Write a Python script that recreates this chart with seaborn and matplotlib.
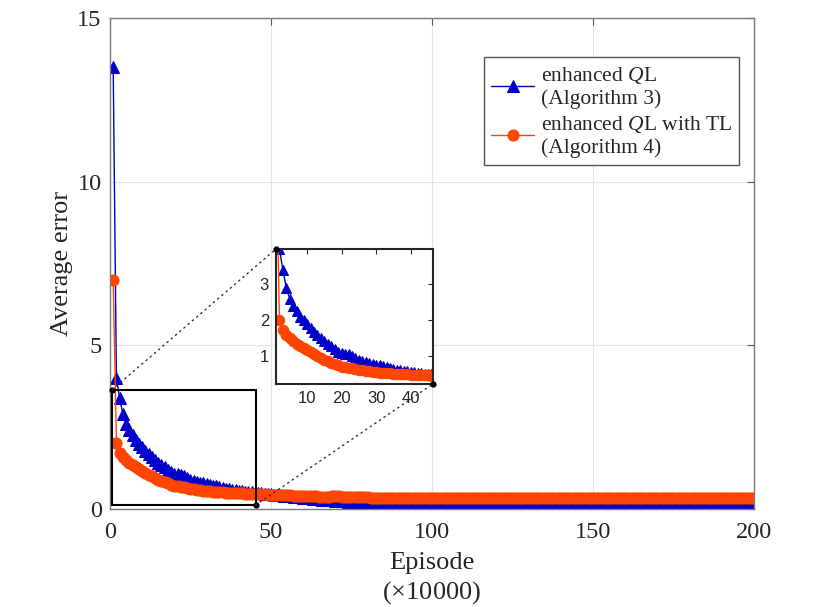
import numpy as np
import pandas as pd
import seaborn as sns
import matplotlib.pyplot as plt
from matplotlib.patches import Rectangle, ConnectionPatch

# Episodes (x 10000)
episodes = list(range(1, 201))

# enhanced QL (Algorithm 3)
err_ql = [
    13.5, 4.0, 3.4, 2.9, 2.6, 2.4, 2.25, 2.1, 2.0, 1.9,
    1.78, 1.68, 1.6, 1.5, 1.42, 1.35, 1.27, 1.2, 1.12, 1.08,
    1.06, 1.05, 1.0, 0.95, 0.9, 0.86, 0.83, 0.8, 0.78, 0.76,
    0.74, 0.71, 0.69, 0.67, 0.65, 0.62, 0.6, 0.59, 0.58, 0.56,
    0.55, 0.53, 0.52, 0.51, 0.5, 0.49, 0.48, 0.47, 0.46, 0.45,
    0.44, 0.43, 0.42, 0.41, 0.40, 0.39, 0.38, 0.37, 0.36, 0.35,
    0.34, 0.33, 0.32, 0.31, 0.30, 0.29, 0.28, 0.28, 0.27, 0.26,
    0.25, 0.25, 0.24, 0.23, 0.23, 0.22, 0.22, 0.21, 0.21, 0.20,
    0.20, 0.19, 0.19, 0.18, 0.18, 0.18, 0.17, 0.17, 0.17, 0.16,
    0.16, 0.16, 0.16, 0.15, 0.15, 0.15, 0.15, 0.15, 0.14, 0.14,
    0.14, 0.14, 0.14, 0.13, 0.13, 0.13, 0.13, 0.13, 0.13, 0.13,
    0.13, 0.13, 0.12, 0.12, 0.12, 0.12, 0.12, 0.12, 0.12, 0.12,
    0.12, 0.12, 0.12, 0.11, 0.11, 0.11, 0.11, 0.11, 0.11, 0.11,
    0.11, 0.11, 0.11, 0.11, 0.11, 0.11, 0.11, 0.11, 0.11, 0.12,
    0.12, 0.12, 0.12, 0.12, 0.12, 0.12, 0.12, 0.12, 0.12, 0.12,
    0.12, 0.12, 0.12, 0.12, 0.12, 0.12, 0.12, 0.12, 0.12, 0.12,
    0.12, 0.12, 0.12, 0.12, 0.12, 0.12, 0.12, 0.12, 0.12, 0.12,
    0.12, 0.12, 0.12, 0.12, 0.12, 0.12, 0.12, 0.12, 0.12, 0.12,
    0.12, 0.12, 0.12, 0.12, 0.12, 0.12, 0.12, 0.12, 0.12, 0.12,
    0.12, 0.12, 0.12, 0.12, 0.12, 0.12, 0.12, 0.12, 0.12, 0.12,
]

# enhanced QL with TL (Algorithm 4)
err_ql_tl = [
    7.0, 2.02, 1.72, 1.6, 1.5, 1.42, 1.35, 1.28, 1.22, 1.17,
    1.1, 1.05, 1.0, 0.95, 0.9, 0.86, 0.82, 0.78, 0.74, 0.7,
    0.69, 0.68, 0.66, 0.64, 0.62, 0.6, 0.58, 0.57, 0.56, 0.55,
    0.54, 0.53, 0.52, 0.52, 0.51, 0.5, 0.5, 0.49, 0.49, 0.48,
    0.48, 0.47, 0.47, 0.46, 0.46, 0.45, 0.45, 0.45, 0.44, 0.44,
    0.44, 0.43, 0.43, 0.43, 0.42, 0.42, 0.41, 0.41, 0.41, 0.40,
    0.40, 0.39, 0.39, 0.39, 0.38, 0.38, 0.38, 0.38, 0.39, 0.39,
    0.39, 0.38, 0.38, 0.37, 0.37, 0.37, 0.36, 0.36, 0.36, 0.36,
    0.35, 0.35, 0.35, 0.35, 0.35, 0.34, 0.34, 0.34, 0.34, 0.34,
    0.34, 0.34, 0.33, 0.33, 0.33, 0.33, 0.33, 0.33, 0.33, 0.33,
    0.33, 0.33, 0.34, 0.34, 0.34, 0.34, 0.35, 0.35, 0.35, 0.35,
    0.35, 0.35, 0.35, 0.35, 0.35, 0.35, 0.35, 0.35, 0.35, 0.35,
    0.35, 0.35, 0.35, 0.34, 0.34, 0.34, 0.34, 0.34, 0.34, 0.34,
    0.33, 0.33, 0.33, 0.33, 0.33, 0.33, 0.33, 0.33, 0.33, 0.33,
    0.33, 0.33, 0.33, 0.33, 0.33, 0.33, 0.33, 0.33, 0.33, 0.34,
    0.34, 0.34, 0.34, 0.34, 0.34, 0.34, 0.34, 0.35, 0.35, 0.35,
    0.35, 0.35, 0.35, 0.35, 0.35, 0.35, 0.35, 0.35, 0.35, 0.35,
    0.35, 0.35, 0.35, 0.35, 0.35, 0.35, 0.35, 0.35, 0.35, 0.35,
    0.35, 0.35, 0.35, 0.35, 0.35, 0.35, 0.35, 0.35, 0.35, 0.35,
    0.35, 0.35, 0.35, 0.35, 0.35, 0.35, 0.35, 0.35, 0.35, 0.35,
]

label_ql = "enhanced $Q$L\n(Algorithm 3)"
label_tl = "enhanced $Q$L with TL\n(Algorithm 4)"
x_ticks = [0, 50, 100, 150, 200]
y_ticks = [0, 5, 10, 15]
inset_xticks = [10, 20, 30, 40]
inset_yticks = [1, 2, 3]

BLUE = "#0000cc"
ORANGE = "#ff4500"


def draw_series(ax, df, small=False):
    ms_tri = 7.5 if small else 9
    ms_dot = 7.5 if small else 8
    sns.lineplot(ax=ax, data=df, x="episode", y="ql", color=BLUE, marker="^",
                 markersize=ms_tri, markeredgecolor=BLUE, linewidth=1.0,
                 label=label_ql, legend=False)
    sns.lineplot(ax=ax, data=df, x="episode", y="tl", color=ORANGE, marker="o",
                 markersize=ms_dot, markeredgecolor=ORANGE, linewidth=1.0,
                 label=label_tl, legend=False)


def main() -> None:
    df = pd.DataFrame({"episode": episodes, "ql": err_ql, "tl": err_ql_tl})

    sns.set_theme(style="whitegrid")
    plt.rcParams["font.family"] = ["Liberation Serif", "DejaVu Serif"]
    plt.rcParams["mathtext.fontset"] = "custom"
    plt.rcParams["mathtext.rm"] = "Liberation Serif"
    plt.rcParams["mathtext.it"] = "Liberation Serif:italic"

    fig = plt.figure(figsize=(8.3, 6.07), dpi=100)
    ax = fig.add_axes([0.1325, 0.1614, 0.7759, 0.8089])
    draw_series(ax, df)

    ax.set_xlim(0, 200)
    ax.set_ylim(0, 15)
    ax.set_xticks(x_ticks)
    ax.set_yticks(y_ticks)
    ax.grid(True, color="#e3e3e3", linewidth=0.8)
    for s in ax.spines.values():
        s.set_color("#7a7a7a")
        s.set_linewidth(1.0)
        s.set_visible(True)
    ax.tick_params(direction="in", length=5, width=0.8, color="#555555",
                   top=True, right=True, labelsize=17.5, labelcolor="#262626")
    ax.tick_params(axis="x", pad=9)
    ax.tick_params(axis="y", pad=6)
    ax.set_xlabel("Episode\n($\\times$10000)", fontsize=19, linespacing=1.25,
                  labelpad=7)
    ax.set_ylabel("Average error", fontsize=19, labelpad=3)

    leg = ax.legend(loc="upper right", bbox_to_anchor=(0.977, 0.92),
                    borderaxespad=0, fontsize=15.5, frameon=True, fancybox=False,
                    framealpha=1, edgecolor="#555555", labelspacing=0.25,
                    handlelength=2.0, handletextpad=0.3, borderpad=0.35)
    leg.get_frame().set_linewidth(1.0)

    # zoomed region box
    rx0, rx1, ry0, ry1 = 0.7, 45.2, 0.12, 3.65
    ax.add_patch(Rectangle((rx0, ry0), rx1 - rx0, ry1 - ry0, fill=False,
                           edgecolor="black", linewidth=1.5, zorder=5))

    axins = fig.add_axes([0.3325, 0.3674, 0.189, 0.2224])
    draw_series(axins, df, small=True)
    axins.set_xlim(1, 46.4)
    axins.set_ylim(0.22, 3.99)
    axins.set_xticks(inset_xticks)
    axins.set_yticks(inset_yticks)
    axins.grid(False)
    axins.set_facecolor("white")
    axins.set_xlabel("")
    axins.set_ylabel("")
    for s in axins.spines.values():
        s.set_color("#262626")
        s.set_linewidth(1.5)
        s.set_visible(True)
    axins.tick_params(direction="in", length=3.5, width=0.8, color="#262626",
                      top=True, right=True, labelsize=12,
                      labelcolor="#262626", pad=5)
    for lab in axins.get_xticklabels() + axins.get_yticklabels():
        lab.set_family(["Liberation Sans", "DejaVu Sans"])

    for xa, ya, xb, yb in [(rx0, ry1, 0, 1), (rx1, ry0, 1, 0)]:
        con = ConnectionPatch(xyA=(xa, ya), coordsA=ax.transData,
                              xyB=(xb, yb), coordsB=axins.transAxes,
                              linestyle=(0, (1, 3)), color="#333333",
                              linewidth=1.0)
        fig.add_artist(con)
    ax.plot([rx0, rx1], [ry1, ry0], "o", color="black", markersize=3.5,
            clip_on=False, zorder=6)
    axins.plot([0, 1], [1, 0], "o", color="black", markersize=3.5,
               transform=axins.transAxes, clip_on=False, zorder=6)

    fig.savefig("out.png", dpi=100)


if __name__ == "__main__":
    main()
